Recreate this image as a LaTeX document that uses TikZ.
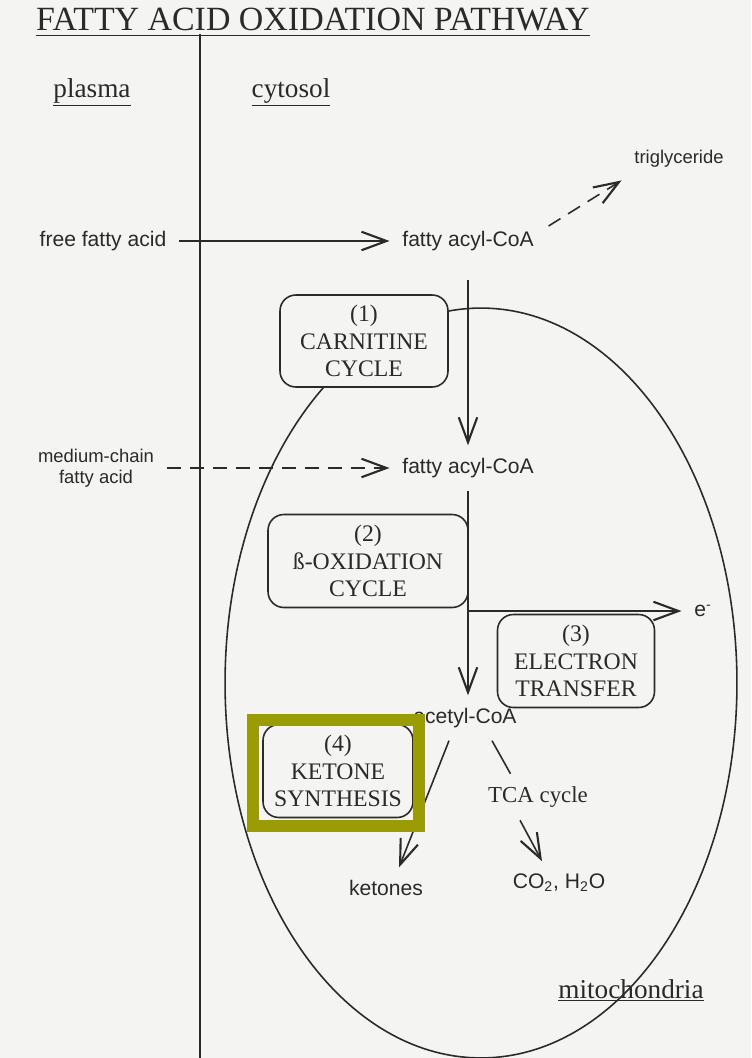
\documentclass[tikz,border=0pt]{standalone}
\usepackage{fontspec}
\setmainfont{Liberation Serif}
\setsansfont{Liberation Sans}
\usetikzlibrary{arrows.meta}
\definecolor{pageBg}{HTML}{F4F4F2}
\definecolor{inkGrey}{HTML}{2A2A2A}
\definecolor{markOlive}{HTML}{9B9B05}
\tikzset{
  stagebox/.style={rectangle, rounded corners=9pt, draw=inkGrey, line width=0.9pt,
    fill=pageBg, align=center, text=inkGrey,
    font=\fontsize{13.5}{15.5}\selectfont, inner sep=2pt},
  chem/.style={font=\sffamily\fontsize{12}{14}\selectfont, inner sep=0.25cm,
    text=inkGrey},
  region/.style={font=\fontsize{15.5}{18}\selectfont, text=inkGrey, anchor=base},
  flow/.style={-{Straight Barb[length=5mm, width=3.7mm, line width=1.2pt]},
    line width=0.9pt, draw=inkGrey},
  hop/.style={line width=0.9pt, draw=inkGrey},
  dashflow/.style={flow, dash pattern=on 2.8mm off 1.8mm},
}

\begin{document}
\begin{tikzpicture}[x=0.02cm, y=-0.02cm]
    \useasboundingbox (0,0) rectangle (751,1058);
    \fill[pageBg] (0,0) rectangle (751,1058);
    % ---------------- title and compartments ----------------
    \node[font=\fontsize{19.3}{21}\selectfont, text=inkGrey, anchor=base,
          inner sep=0pt] (title) at (313,31) {FATTY ACID OXIDATION PATHWAY};
    \draw[line width=1pt, inkGrey] ([yshift=-2.5pt]title.base west)
      -- ([yshift=-2.5pt]title.base east);
    \draw[line width=1.1pt, inkGrey] (200,34) -- (200,1058);
    % mitochondrion
    \draw[hop] (481,683) ellipse [x radius=5.12cm, y radius=7.5cm];
    \node[region] (plasma) at (92,97) {\underline{plasma}};
    \node[region] (cytosol) at (291,97) {\underline{cytosol}};
    \node[region] (mito) at (631,998) {\underline{mitochondria}};
    % ---------------- stages ----------------
    \node[stagebox, minimum width=3.36cm, minimum height=1.84cm]
      (carnitine) at (364,341) {(1)\\CARNITINE\\CYCLE};
    \node[stagebox, minimum width=4.0cm, minimum height=1.86cm]
      (betaox) at (368,561) {(2)\\ß-OXIDATION\\CYCLE};
    \node[stagebox, minimum width=3.14cm, minimum height=1.86cm]
      (etransfer) at (576,661) {(3)\\ELECTRON\\TRANSFER};
    \node[stagebox, minimum width=3.0cm, minimum height=1.86cm]
      (ketsynth) at (338,771) {(4)\\KETONE\\SYNTHESIS};
    % ---------------- metabolites ----------------
    \node[chem] (ffa) at (103,241) {free fatty acid};
    \node[chem] (acyl1) at (468,241) {fatty acyl-CoA};
    \node[chem, font=\sffamily\fontsize{10.5}{12}\selectfont] (tg) at (679,159)
      {triglyceride};
    \node[chem, font=\sffamily\fontsize{10.5}{12}\selectfont, align=center]
      (mcfa) at (96,468) {medium-chain\\fatty acid};
    \node[chem] (acyl2) at (468,468) {fatty acyl-CoA};
    \node[chem] (acetyl) at (465,718) {acetyl-CoA};
    \node[chem] (eminus) at (703,611) {e\textsuperscript{-}};
    \node[chem, font=\fontsize{13}{15}\selectfont] (tca) at (538,797) {TCA cycle};
    \node[chem] (ketones) at (386,888) {ketones};
    \node[chem] (co2) at (559,883) {CO\textsubscript{2}, H\textsubscript{2}O};
    % ---------------- pathway ----------------
    \draw[flow] (ffa) -- (acyl1);
    \draw[dashflow, shorten <=0.5mm] ([yshift=-0.18cm]acyl1.north east)
      -- (tg.south west);
    \draw[flow, shorten <=0.32cm] (acyl1) -- (acyl2);
    \draw[dashflow] (mcfa) -- (acyl2);
    \draw[flow] (acyl2) -- (acyl2 |- acetyl.north);
    \draw[flow] (acyl2 |- eminus) -- (eminus);
    \draw[flow] ([xshift=-0.32cm]acetyl.south) -- ([xshift=0.26cm]ketones.north);
    \draw[hop] ([xshift=0.54cm]acetyl.south) -- ([xshift=-0.55cm]tca.north);
    \draw[flow] ([xshift=-0.36cm]tca.south) -- ([xshift=-0.34cm]co2.north);
    % highlight frame
    \draw[markOlive, line width=0.24cm] (253,720) rectangle (419,826);
\end{tikzpicture}
\end{document}
